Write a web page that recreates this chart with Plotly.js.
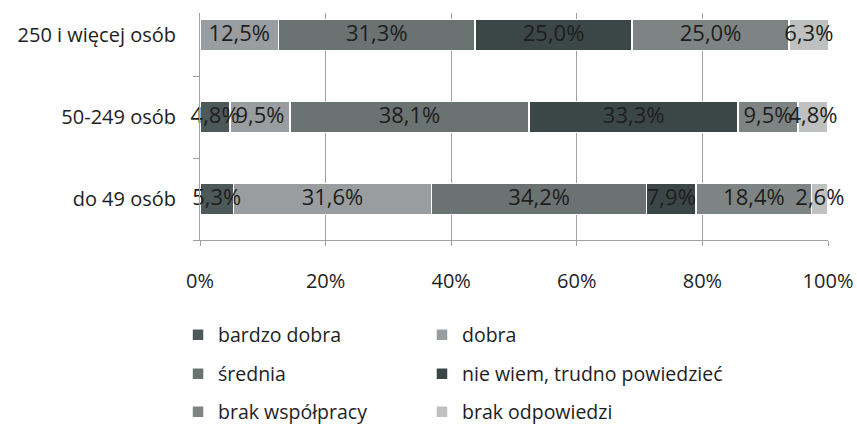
<!DOCTYPE html>
<html><head><meta charset="utf-8">
<script src="https://cdn.plot.ly/plotly-3.0.1.min.js"></script>
<style>body{margin:0;background:#fff}#c{width:857px;height:425px}</style>
</head><body><div id="c"></div>
<script>
const categories = ["do 49 osób", "50-249 osób", "250 i więcej osób"];
const seriesNames = ["bardzo dobra", "dobra", "średnia", "nie wiem, trudno powiedzieć", "brak współpracy", "brak odpowiedzi"];
const bardzoDobra = [5.3, 4.8, 0];
const dobra = [31.6, 9.5, 12.5];
const srednia = [34.2, 38.1, 31.3];
const nieWiem = [7.9, 33.3, 25.0];
const brakWspolpracy = [18.4, 9.5, 25.0];
const brakOdpowiedzi = [2.6, 4.8, 6.3];
const xTickVals = [0, 20, 40, 60, 80, 100];
const xTickText = ["0%", "20%", "40%", "60%", "80%", "100%"];

const seriesValues = [bardzoDobra, dobra, srednia, nieWiem, brakWspolpracy, brakOdpowiedzi];
const colors = ["#4d5858", "#9a9d9f", "#6b7272", "#3b4646", "#7e8484", "#bfc1c1"];
const FONT = "'Open Sans', sans-serif";
const TXT = "#1e1e1e";

const legendIds = seriesNames.map((_, i) => i === 0 ? "legend" : "legend" + (i + 1));
const legendCols = [-0.035, 0.3535];
const legendRows = [-0.4185, -0.5903, -0.7577];

const traces = seriesValues.map((vals, i) => ({
  type: "bar",
  orientation: "h",
  name: seriesNames[i],
  y: categories,
  x: vals,
  textposition: "none",
  marker: {color: colors[i], line: {color: "#ffffff", width: 1.5}},
  legend: legendIds[i],
  hoverinfo: "skip"
}));

// data labels centred on each segment (positions derived from the stacked values)
const lblX = [], lblY = [], lblT = [];
categories.forEach((cat, j) => {
  let cum = 0;
  seriesValues.forEach(vals => {
    const v = vals[j];
    if (v > 0) {
      lblX.push(cum + v / 2);
      lblY.push(cat);
      lblT.push(v.toFixed(1).replace(".", ",") + "%");
    }
    cum += v;
  });
});
traces.push({
  type: "scatter", mode: "text", x: lblX, y: lblY, text: lblT,
  textposition: "middle center", cliponaxis: false, showlegend: false,
  textfont: {family: FONT, size: 22, color: TXT}, hoverinfo: "skip"
});

const layout = {
  width: 857, height: 425,
  margin: {l: 200, r: 29, t: 13, b: 185, autoexpand: false},
  paper_bgcolor: "#ffffff", plot_bgcolor: "#ffffff",
  barmode: "stack",
  bargap: 0.62,
  font: {family: FONT, size: 20, color: TXT},
  xaxis: {
    range: [0, 100], tickvals: xTickVals, ticktext: xTickText,
    showgrid: true, gridcolor: "#a0a0a0", gridwidth: 1,
    showline: true, linecolor: "#a0a0a0", linewidth: 1,
    ticks: "outside", ticklen: 5, tickcolor: "#a0a0a0",
    ticklabelstandoff: 18, automargin: false,
    zeroline: false, fixedrange: true,
    tickfont: {family: FONT, size: 20, color: TXT}
  },
  yaxis: {
    type: "category", categoryorder: "array", categoryarray: categories,
    range: [-0.5, 2.27],
    showgrid: false, showline: true, linecolor: "#a0a0a0", linewidth: 1,
    ticks: "outside", tickson: "boundaries", ticklen: 6, tickcolor: "#a0a0a0",
    ticklabelstandoff: 19, automargin: false,
    tickfont: {family: FONT, size: 20, color: TXT}
  },
  showlegend: true
};

legendIds.forEach((id, i) => {
  layout[id] = {
    orientation: "h", xanchor: "left", yanchor: "middle",
    x: legendCols[i % 2], y: legendRows[Math.floor(i / 2)],
    font: {family: FONT, size: 19.5, color: TXT}, bgcolor: "rgba(0,0,0,0)"
  };
});

Plotly.newPlot("c", traces, layout, {displayModeBar: false, staticPlot: true});
</script></body></html>
